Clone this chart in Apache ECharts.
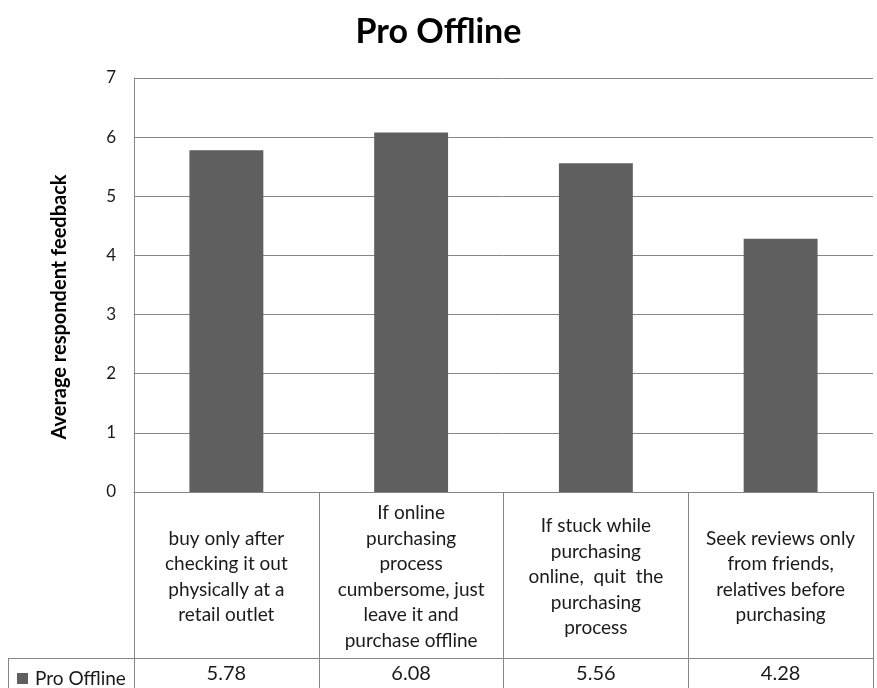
<!DOCTYPE html>
<html>
<head>
<meta charset="utf-8">
<script src="https://cdn.jsdelivr.net/npm/echarts@6/dist/echarts.min.js"></script>
<style>
html,body{margin:0;padding:0;background:#fff;}
#c{width:877px;height:688px;}
</style>
</head>
<body>
<div id="c"></div>
<script>
var titleText = 'Pro Offline';
var seriesName = 'Pro Offline';
var yAxisName = 'Average respondent feedback';
var categories = [
  'buy only after\nchecking it out\nphysically at a\nretail outlet',
  'If online\npurchasing\nprocess\ncumbersome, just\nleave it and\npurchase offline',
  'If stuck while\npurchasing\nonline,  quit  the\npurchasing\nprocess',
  'Seek reviews only\nfrom friends,\nrelatives before\npurchasing'
];
var values = [5.78, 6.08, 5.56, 4.28];
var yTicks = [0, 1, 2, 3, 4, 5, 6, 7];

var FONT = 'Lato, "Open Sans", sans-serif';
var LINE = '#868686';
var TXT = '#1a1a1a';
var chart = echarts.init(document.getElementById('c'));
chart.setOption({
  animation: false,
  backgroundColor: '#fff',
  title: {
    text: titleText,
    left: 'center',
    top: 10,
    textStyle: {fontFamily: FONT, fontSize: 34, fontWeight: 'bold', color: '#000'}
  },
  legend: {
    data: [seriesName],
    left: 12,
    top: 664,
    icon: 'rect',
    itemWidth: 11,
    itemHeight: 11,
    itemGap: 4,
    textStyle: {fontFamily: FONT, fontSize: 19, color: TXT, padding: [0, 0, 0, 2]}
  },
  grid: {left: 134, right: 4, top: 78, bottom: 196, containLabel: false},
  xAxis: [
    {
      type: 'category',
      data: categories,
      position: 'bottom',
      axisLine: {show: true, lineStyle: {color: LINE, width: 1}},
      axisTick: {show: true, length: 196, alignWithLabel: false, lineStyle: {color: LINE, width: 1}},
      axisLabel: {
        interval: 0, margin: 85, verticalAlign: 'middle',
        fontFamily: FONT, fontSize: 19, lineHeight: 25.5, color: TXT, align: 'center'
      }
    },
    {
      type: 'category',
      data: values.map(function(v){ return v.toFixed(2); }),
      position: 'bottom',
      offset: 166,
      axisLine: {show: true, lineStyle: {color: LINE, width: 1}},
      axisTick: {show: false},
      axisLabel: {interval: 0, margin: 16, verticalAlign: 'middle', fontFamily: FONT, fontSize: 20, color: TXT}
    }
  ],
  yAxis: {
    type: 'value',
    min: yTicks[0],
    max: yTicks[yTicks.length - 1],
    interval: 1,
    name: yAxisName,
    nameLocation: 'middle',
    nameGap: 64,
    nameTextStyle: {fontFamily: FONT, fontSize: 20, fontWeight: 'bold', color: '#000', padding: [0, 44, 0, 0]},
    axisLine: {show: true, lineStyle: {color: LINE, width: 1}},
    axisTick: {show: false},
    axisLabel: {fontFamily: FONT, fontSize: 17, color: TXT, margin: 18},
    splitLine: {show: true, lineStyle: {color: LINE, width: 1}}
  },
  graphic: [
    {type: 'line', shape: {x1: 8, y1: 658.5, x2: 134, y2: 658.5}, style: {stroke: LINE, lineWidth: 1}},
    {type: 'line', shape: {x1: 8.5, y1: 658, x2: 8.5, y2: 688}, style: {stroke: LINE, lineWidth: 1}}
  ],
  series: [{
    name: seriesName,
    type: 'bar',
    data: values,
    barWidth: '40%',
    itemStyle: {color: '#5f5f5f'}
  }]
});
</script>
</body>
</html>
